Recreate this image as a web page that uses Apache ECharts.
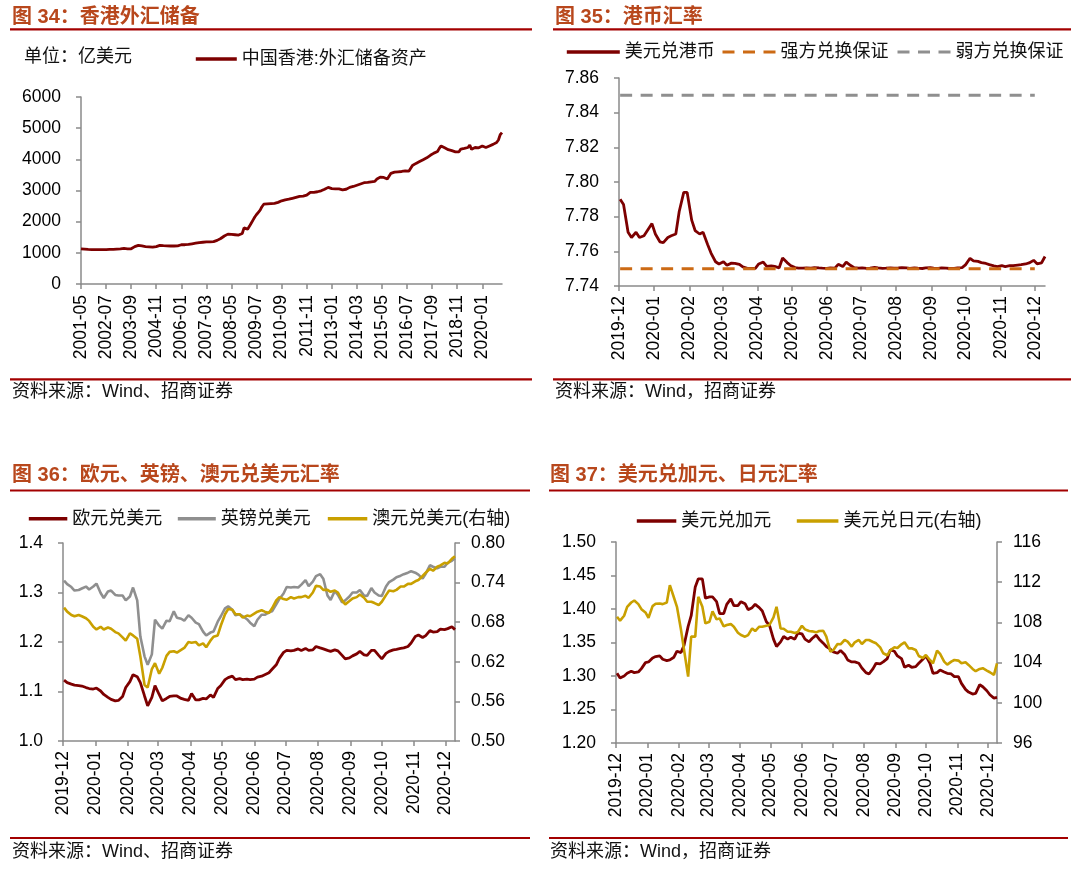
<!DOCTYPE html>
<html>
<head>
<meta charset="utf-8">
<script src="https://cdn.jsdelivr.net/npm/echarts@6/dist/echarts.min.js"></script>
<style>
html,body{margin:0;padding:0;background:#fff;}
#c{width:1080px;height:871px;}
</style>
</head>
<body>
<div id="c"></div>
<script>
// ---------------- DATA ----------------
// Figure 34: Hong Kong FX reserve assets, monthly 2001-05 .. 2020-12 (100 mn USD)
const reserveStart = '2001-05';
const hkFxReserve = [
  1130,1125,1120,1115,1110,1110,1105,1110,
  1105,1100,1100,1095,1100,1100,1105,1110,1110,1110,1110,1120,
  1120,1120,1125,1130,1140,1140,1130,1130,1130,1150,1200,1240,
  1240,1235,1220,1210,1200,1190,1190,1185,1180,1185,1200,1230,
  1240,1235,1230,1225,1225,1220,1220,1225,1220,1220,1225,1240,
  1260,1265,1260,1265,1270,1280,1290,1300,1310,1320,1330,1330,
  1340,1340,1350,1345,1350,1350,1360,1380,1400,1430,1460,1500,
  1540,1590,1600,1600,1590,1580,1580,1570,1570,1560,1620,1800,
  1780,1760,1850,1950,2050,2150,2230,2300,2370,2480,2560,2570,
  2570,2580,2580,2600,2590,2600,2620,2640,2670,2690,2700,2700,
  2720,2740,2750,2760,2780,2800,2810,2810,2820,2830,2850,2870,
  2940,2950,2940,2950,2960,2980,2990,3010,3040,3060,3100,3150,
  3060,3070,3050,3040,3050,3040,3020,3010,3040,3080,3100,3110,
  3130,3150,3170,3190,3210,3230,3250,3270,3260,3270,3280,3300,
  3290,3360,3420,3430,3440,3420,3400,3370,3360,3550,3560,3590,
  3580,3600,3600,3610,3620,3630,3630,3620,3630,3800,3840,3870,
  3900,3930,3950,3990,4020,4050,4090,4130,4170,4200,4220,4250,
  4350,4430,4400,4370,4330,4310,4300,4280,4260,4240,4220,4240,
  4330,4340,4350,4360,4380,4460,4320,4340,4380,4390,4370,4410,
  4430,4400,4380,4410,4430,4460,4480,4520,4540,4620,4790,4860
];
const reserveAxisTicks = [0, 6000, 1000];      // min, max, step

// Figures 35-37: sampled dates (Mon/Thu) on a daily axis 2019-12-01 .. 2020-12-10
const dayAxisStart = '2019-12-01';
const dayAxisEnd = '2020-12-10';
const sampleDates = [
 '2019-12-02','2019-12-05','2019-12-09','2019-12-12','2019-12-16','2019-12-19','2019-12-23','2019-12-26','2019-12-30',
 '2020-01-02','2020-01-06','2020-01-09','2020-01-13','2020-01-16','2020-01-20','2020-01-23','2020-01-27','2020-01-30',
 '2020-02-03','2020-02-06','2020-02-10','2020-02-13','2020-02-17','2020-02-20','2020-02-24','2020-02-27',
 '2020-03-02','2020-03-05','2020-03-09','2020-03-12','2020-03-16','2020-03-19','2020-03-23','2020-03-26','2020-03-30',
 '2020-04-02','2020-04-06','2020-04-09','2020-04-13','2020-04-16','2020-04-20','2020-04-23','2020-04-27','2020-04-30',
 '2020-05-04','2020-05-07','2020-05-11','2020-05-14','2020-05-18','2020-05-21','2020-05-25','2020-05-28',
 '2020-06-01','2020-06-04','2020-06-08','2020-06-11','2020-06-15','2020-06-18','2020-06-22','2020-06-25','2020-06-29',
 '2020-07-02','2020-07-06','2020-07-09','2020-07-13','2020-07-16','2020-07-20','2020-07-23','2020-07-27','2020-07-30',
 '2020-08-03','2020-08-06','2020-08-10','2020-08-13','2020-08-17','2020-08-20','2020-08-24','2020-08-27','2020-08-31',
 '2020-09-03','2020-09-07','2020-09-10','2020-09-14','2020-09-17','2020-09-21','2020-09-24','2020-09-28',
 '2020-10-01','2020-10-05','2020-10-08','2020-10-12','2020-10-15','2020-10-19','2020-10-22','2020-10-26','2020-10-29',
 '2020-11-02','2020-11-05','2020-11-09','2020-11-12','2020-11-16','2020-11-19','2020-11-23','2020-11-26','2020-11-30',
 '2020-12-03','2020-12-07','2020-12-10'
];

// Figure 35: USD/HKD and the convertibility undertakings
const usdHkd = [
 7.7900,7.7870,7.7710,7.7680,7.7710,7.7680,7.7690,7.7720,7.7760,
 7.7700,7.7655,7.7650,7.7680,7.7690,7.7700,7.7830,7.7940,7.7940,
 7.7780,7.7720,7.7700,7.7710,7.7640,7.7590,7.7540,7.7527,
 7.7540,7.7520,7.7532,7.7531,7.7525,7.7510,7.7502,7.7501,7.7502,
 7.7527,7.7538,7.7513,7.7516,7.7513,7.7505,7.7562,7.7535,7.7518,
 7.7506,7.7503,7.7503,7.7505,7.7503,7.7506,7.7504,7.7503,
 7.7502,7.7504,7.7503,7.7525,7.7512,7.7538,7.7518,7.7506,7.7503,
 7.7505,7.7502,7.7503,7.7508,7.7505,7.7502,7.7503,7.7505,7.7503,
 7.7504,7.7506,7.7504,7.7502,7.7505,7.7503,7.7501,7.7504,7.7506,
 7.7503,7.7502,7.7505,7.7503,7.7501,7.7502,7.7504,7.7506,
 7.7522,7.7560,7.7545,7.7542,7.7535,7.7530,7.7523,7.7516,7.7512,
 7.7517,7.7512,7.7517,7.7518,7.7521,7.7523,7.7527,7.7533,7.7548,
 7.7528,7.7534,7.7570
];
const pegDates = ['2019-12-02', '2020-12-01'];
const strongSide = [7.75, 7.75];
const weakSide = [7.85, 7.85];

// Figure 36: EUR/USD, GBP/USD (left), AUD/USD (right)
const eurUsd = [
 1.123,1.118,1.115,1.113,1.112,1.111,1.108,1.106,1.105,
 1.107,1.101,1.094,1.088,1.084,1.081,1.082,1.090,1.108,
 1.120,1.134,1.130,1.118,1.091,1.071,1.088,1.112,
 1.094,1.081,1.086,1.090,1.091,1.091,1.086,1.084,1.082,
 1.096,1.083,1.083,1.086,1.085,1.093,1.088,1.106,1.112,
 1.124,1.128,1.131,1.124,1.126,1.124,1.125,1.124,
 1.125,1.129,1.131,1.134,1.138,1.145,1.154,1.167,1.179,
 1.183,1.182,1.183,1.186,1.183,1.187,1.183,1.184,1.191,
 1.188,1.186,1.183,1.181,1.184,1.182,1.173,1.166,1.168,
 1.172,1.176,1.181,1.174,1.173,1.183,1.183,1.173,
 1.166,1.177,1.181,1.184,1.185,1.187,1.188,1.191,1.198,
 1.211,1.214,1.209,1.213,1.223,1.220,1.221,1.226,1.225,
 1.227,1.231,1.225
];
const gbpUsd = [
 1.324,1.317,1.311,1.304,1.305,1.308,1.312,1.306,1.312,
 1.318,1.299,1.289,1.302,1.304,1.295,1.294,1.294,1.284,
 1.292,1.310,1.284,1.211,1.171,1.154,1.175,1.245,
 1.233,1.227,1.243,1.242,1.262,1.249,1.247,1.243,1.254,
 1.249,1.239,1.236,1.221,1.213,1.219,1.221,1.241,1.252,
 1.268,1.272,1.265,1.254,1.256,1.252,1.246,1.239,
 1.232,1.245,1.255,1.255,1.260,1.262,1.276,1.287,1.298,
 1.311,1.310,1.311,1.310,1.316,1.325,1.313,1.322,1.333,
 1.337,1.328,1.294,1.285,1.303,1.295,1.280,1.284,1.292,
 1.300,1.300,1.305,1.294,1.293,1.309,1.300,1.294,
 1.293,1.312,1.321,1.326,1.331,1.334,1.337,1.340,1.343,
 1.340,1.336,1.328,1.338,1.355,1.352,1.349,1.352,1.352,
 1.360,1.364,1.369
];
const audUsd = [
 0.702,0.696,0.691,0.689,0.691,0.689,0.686,0.682,0.673,
 0.669,0.673,0.669,0.672,0.670,0.665,0.663,0.657,0.652,
 0.663,0.660,0.655,0.628,0.585,0.581,0.609,0.618,
 0.602,0.611,0.629,0.635,0.636,0.634,0.638,0.641,0.650,
 0.649,0.650,0.645,0.648,0.642,0.652,0.658,0.660,0.675,
 0.692,0.700,0.699,0.692,0.692,0.687,0.690,0.689,
 0.693,0.696,0.698,0.696,0.694,0.701,0.713,0.718,0.715,
 0.714,0.718,0.716,0.718,0.718,0.720,0.717,0.725,0.735,
 0.734,0.729,0.729,0.726,0.728,0.725,0.713,0.707,0.712,
 0.716,0.718,0.722,0.717,0.711,0.711,0.709,0.706,
 0.711,0.721,0.728,0.727,0.729,0.734,0.734,0.738,0.738,
 0.742,0.744,0.750,0.755,0.761,0.758,0.764,0.766,0.770,
 0.769,0.776,0.780
];

// Figure 37: USD/CAD (left), USD/JPY (right)
const usdCad = [
 1.304,1.297,1.300,1.304,1.307,1.305,1.306,1.311,1.320,
 1.321,1.327,1.329,1.330,1.325,1.323,1.324,1.328,1.337,
 1.335,1.346,1.374,1.390,1.433,1.445,1.445,1.416,
 1.418,1.418,1.411,1.393,1.393,1.407,1.415,1.405,1.405,
 1.411,1.408,1.399,1.402,1.407,1.402,1.397,1.381,1.376,
 1.355,1.344,1.351,1.359,1.355,1.358,1.355,1.364,
 1.363,1.355,1.351,1.356,1.361,1.355,1.349,1.344,1.340,
 1.336,1.334,1.338,1.332,1.324,1.321,1.321,1.319,1.312,
 1.305,1.303,1.311,1.319,1.318,1.321,1.326,1.339,1.337,
 1.330,1.326,1.313,1.316,1.313,1.314,1.319,1.325,
 1.330,1.319,1.304,1.305,1.309,1.306,1.304,1.303,1.299,
 1.299,1.289,1.280,1.276,1.273,1.274,1.287,1.284,1.278,
 1.272,1.267,1.268
];
const usdJpy = [
 108.56,108.17,108.66,109.55,109.98,110.18,109.82,109.32,108.99,
 108.46,109.62,109.85,109.88,109.82,109.98,111.70,110.48,109.55,
 107.24,105.26,102.60,106.58,106.58,110.55,109.55,107.90,
 108.07,109.09,108.30,108.40,107.60,107.74,107.83,107.57,106.98,
 106.74,106.58,106.74,107.40,107.14,107.57,107.57,107.67,107.74,
 108.50,109.55,107.40,107.37,107.07,107.07,106.94,107.04,
 107.67,107.31,107.14,107.11,107.01,107.14,107.17,106.58,105.09,
 105.26,105.85,105.82,106.25,106.08,105.59,106.02,106.25,105.85,
 106.25,106.25,106.05,105.92,105.52,104.93,104.73,105.22,105.52,
 105.45,105.82,106.02,105.42,105.42,105.26,104.66,104.46,
 104.76,104.26,103.93,105.19,104.86,104.10,103.80,104.10,104.26,
 104.20,103.93,104.03,103.77,103.37,103.14,103.37,103.44,103.21,
 103.04,102.78,103.93
];

// ---------------- AXIS SCAFFOLDING ----------------
const reserveMonths = [];
{
  let y = +reserveStart.slice(0, 4), m = +reserveStart.slice(5, 7);
  while (reserveMonths.length < hkFxReserve.length) {
    reserveMonths.push(y + '-' + String(m).padStart(2, '0'));
    m++; if (m > 12) { m = 1; y++; }
  }
}
const days = [];
for (let t = Date.parse(dayAxisStart + 'T00:00:00Z'); t <= Date.parse(dayAxisEnd + 'T00:00:00Z'); t += 86400000) {
  days.push(new Date(t).toISOString().slice(0, 10));
}
const dayIdx = d => days.indexOf(d);
const pairs = (dates, vals) => dates.map((d, i) => [dayIdx(d), vals[i]]);

// ---------------- STYLE ----------------
const LATIN = "'Liberation Sans', Arial, sans-serif";
const MIX = "'Liberation Sans', 'Noto Sans CJK SC', sans-serif";
const AXIS_GRAY = '#8a8a8a';
const MAROON = '#7d0000';
const GOLD = '#c9a000';
const GRAY = '#8f8f8f';
const ORANGE = '#cc6a14';
const TITLE_C = '#b8471c';
const RULE_C = '#a30000';

const axisLine = { show: true, lineStyle: { color: AXIS_GRAY, width: 1.5 } };
const tickBase = { show: true, length: 5, inside: false, lineStyle: { color: AXIS_GRAY, width: 1.5 } };
const labelBase = { color: '#000', fontSize: 17.5, fontFamily: LATIN };

function dayXAxis(gridIndex) {
  const isMonthStart = (i, v) => v.slice(8) === '01';
  return {
    type: 'category', gridIndex, data: days, boundaryGap: false,
    axisLine, axisTick: Object.assign({}, tickBase, { interval: isMonthStart }),
    axisLabel: Object.assign({}, labelBase, { interval: isMonthStart, rotate: 90, margin: 10, formatter: v => v.slice(0, 7) }),
    splitLine: { show: false }
  };
}
function valYAxis(gridIndex, min, max, interval, digits, position) {
  return {
    type: 'value', gridIndex, min, max, interval, position: position || 'left',
    axisLine, axisTick: tickBase,
    axisLabel: Object.assign({}, labelBase, { margin: position === 'right' ? 16 : 20, formatter: v => v.toFixed(digits) }),
    splitLine: { show: false }
  };
}
function lineSeries(name, xi, yi, data, color, width, type) {
  return {
    type: 'line', name, xAxisIndex: xi, yAxisIndex: yi, data, symbol: 'none', showSymbol: false,
    lineStyle: { color, width, type: type || 'solid' }, itemStyle: { color },
    animation: false, emphasis: { disabled: true }, silent: true
  };
}
function legendItem(name, left, centerY, width, lineWidth) {
  return {
    data: [name], left, top: centerY - 7, padding: 0, itemWidth: width, itemHeight: 14,
    selectedMode: false,
    itemStyle: { opacity: 0, borderWidth: 0 },
    lineStyle: { width: lineWidth || 3.6 },
    textStyle: { color: '#111', fontSize: 18, fontFamily: MIX }
  };
}
function txt(x, y, text, font, fill) {
  return { type: 'text', x, y, silent: true, style: { text, font, fill, verticalAlign: 'middle', align: 'left' } };
}
function rule(x1, x2, y) {
  return { type: 'rect', silent: true, shape: { x: x1, y: y - 1.1, width: x2 - x1, height: 2.2 }, style: { fill: RULE_C } };
}
const TITLE_FONT = "bold 20px 'Liberation Sans', 'Noto Sans CJK SC', sans-serif";
const BODY_FONT = "18px 'Liberation Sans', 'Noto Sans CJK SC', sans-serif";

const option = {
  animation: false,
  backgroundColor: '#fff',
  grid: [
    { left: 81, top: 97, width: 421, height: 187, outerBoundsMode: 'none' },
    { left: 619, top: 78, width: 426, height: 208, outerBoundsMode: 'none' },
    { left: 63, top: 543, width: 392, height: 198, outerBoundsMode: 'none' },
    { left: 616, top: 542, width: 381, height: 201, outerBoundsMode: 'none' }
  ],
  xAxis: [
    {
      type: 'category', gridIndex: 0, data: reserveMonths, boundaryGap: false,
      axisLine, axisTick: Object.assign({}, tickBase, { interval: 13 }),
      axisLabel: Object.assign({}, labelBase, { interval: 13, rotate: 90, margin: 11 }),
      splitLine: { show: false }
    },
    dayXAxis(1), dayXAxis(2), dayXAxis(3)
  ],
  yAxis: [
    valYAxis(0, reserveAxisTicks[0], reserveAxisTicks[1], reserveAxisTicks[2], 0),
    valYAxis(1, 7.74, 7.86, 0.02, 2),
    valYAxis(2, 1.0, 1.4, 0.1, 1),
    valYAxis(2, 0.50, 0.80, 0.06, 2, 'right'),
    valYAxis(3, 1.20, 1.50, 0.05, 2),
    valYAxis(3, 96, 116, 4, 0, 'right')
  ],
  legend: [
    legendItem('中国香港:外汇储备资产', 194, 57, 41),
    legendItem('美元兑港币', 565, 50, 53),
    legendItem('强方兑换保证', 721, 50, 53, 3),
    legendItem('弱方兑换保证', 896, 50, 53, 3),
    legendItem('欧元兑美元', 27, 516.7, 38.5),
    legendItem('英镑兑美元', 176, 516.7, 38),
    legendItem('澳元兑美元(右轴)', 326, 516.7, 39.5),
    legendItem('美元兑加元', 635, 519, 39.5),
    legendItem('美元兑日元(右轴)', 795, 519, 41.6)
  ],
  series: [
    lineSeries('中国香港:外汇储备资产', 0, 0, hkFxReserve, MAROON, 2.8),
    lineSeries('美元兑港币', 1, 1, pairs(sampleDates, usdHkd), MAROON, 2.8),
    lineSeries('强方兑换保证', 1, 1, pairs(pegDates, strongSide), ORANGE, 3, [12, 8.5]),
    lineSeries('弱方兑换保证', 1, 1, pairs(pegDates, weakSide), GRAY, 3, [12, 8.5]),
    lineSeries('欧元兑美元', 2, 2, pairs(sampleDates, eurUsd), MAROON, 2.8),
    lineSeries('英镑兑美元', 2, 2, pairs(sampleDates, gbpUsd), GRAY, 2.6),
    lineSeries('澳元兑美元(右轴)', 2, 3, pairs(sampleDates, audUsd), GOLD, 2.6),
    lineSeries('美元兑加元', 3, 4, pairs(sampleDates, usdCad), MAROON, 2.8),
    lineSeries('美元兑日元(右轴)', 3, 5, pairs(sampleDates, usdJpy), GOLD, 2.6)
  ],
  graphic: [
    txt(12, 17, '图 34：香港外汇储备', TITLE_FONT, TITLE_C),
    rule(10, 532, 29.3),
    txt(24, 57, '单位：亿美元', BODY_FONT, '#111'),
    rule(10, 532, 379.3),
    txt(12, 392.5, '资料来源：Wind、招商证券', BODY_FONT, '#111'),

    txt(555, 17, '图 35：港币汇率', TITLE_FONT, TITLE_C),
    rule(553, 1071, 29.3),
    rule(553, 1071, 379.3),
    txt(555, 392.5, '资料来源：Wind，招商证券', BODY_FONT, '#111'),

    txt(12, 475, '图 36：欧元、英镑、澳元兑美元汇率', TITLE_FONT, TITLE_C),
    rule(10, 530, 490.5),
    rule(10, 530, 838),
    txt(12, 852, '资料来源：Wind、招商证券', BODY_FONT, '#111'),

    txt(550, 475, '图 37：美元兑加元、日元汇率', TITLE_FONT, TITLE_C),
    rule(549, 1068, 490.5),
    rule(549, 1068, 838),
    txt(550, 852, '资料来源：Wind，招商证券', BODY_FONT, '#111')
  ]
};

const chart = echarts.init(document.getElementById('c'), null, { renderer: 'canvas' });
chart.setOption(option);
</script>
</body>
</html>
